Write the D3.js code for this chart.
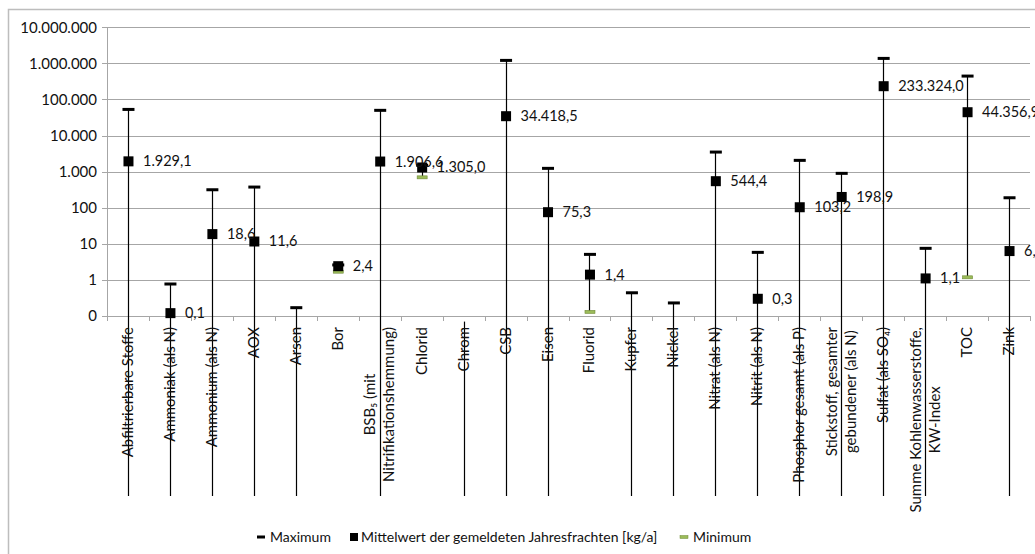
<!DOCTYPE html>
<html lang="de">
<head>
<meta charset="utf-8">
<script src="https://cdn.jsdelivr.net/npm/d3@7"></script>
<style>
  html, body { margin: 0; padding: 0; background: #fff; }
  svg { display: block; font-family: Lato, "Open Sans", sans-serif; }
</style>
</head>
<body>
<svg id="chart" width="1035" height="554"></svg>
<script>
// Stoffe (Parameter); "\n" trennt die Zeilen der Achsenbeschriftung
const categories = [
  "Abfiltrierbare Stoffe", "Ammoniak (als N)", "Ammonium (als N)", "AOX", "Arsen", "Bor",
  "BSB₅ (mit\nNitrifikationshemmung)", "Chlorid", "Chrom", "CSB", "Eisen", "Fluorid",
  "Kupfer", "Nickel", "Nitrat (als N)", "Nitrit (als N)", "Phosphor gesamt (als P)",
  "Stickstoff, gesamter\ngebundener (als N)", "Sulfat (als SO₄)",
  "Summe Kohlenwasserstoffe,\nKW-Index", "TOC", "Zink"
];

// Jahresfrachten in kg/a (null = kein Mittelwert gemeldet, 0 = Minimum null)
const maxValues = [
  53000, 0.77, 315, 374, 0.17, 2.6,
  50000, 1500, 0.07, 1210000, 1234, 5.1,
  0.44, 0.23, 3490, 5.8, 2055,
  897, 1374000,
  7.5, 445000, 189
];
const meanValues = [
  1929.1, 0.12, 18.6, 11.6, null, 2.4,
  1906.6, 1305.0, null, 34418.5, 75.3, 1.4,
  null, null, 544.4, 0.3, 103.2,
  198.9, 233324.0,
  1.1, 44356.9, 6.3
];
const minValues = [
  0, 0, 0, 0, 0, 1.69,
  0, 695, 0, 0, 0, 0.13,
  0, 0, 0, 0, 0,
  0, 0,
  0, 1.18, 0
];

// Logarithmische Achse
const yTickValues = [0.1, 1, 10, 100, 1000, 10000, 100000, 1000000, 10000000];
const yTickLabels = ["0", "1", "10", "100", "1.000", "10.000", "100.000", "1.000.000", "10.000.000"];

const legendLabels = ["Maximum", "Mittelwert der gemeldeten Jahresfrachten [kg/a]", "Minimum"];

const de = d3.formatLocale({ decimal: ",", thousands: ".", grouping: [3], currency: ["", " €"] });
const fmtValue = de.format(",.1f");

const svg = d3.select("#chart");
const W = 1035, H = 554;
const plot = { left: 107, right: 1030, top: 27.3, bottom: 316 };
const lineFloor = 496;          // high-low lines for a zero minimum run down to here
const gridColor = "#a6a6a6";
const minGreen = "#9bbb59";
const fontSize = 15;
const valueFontSize = 14.5;
const legendFontSize = 14;

// chart frame
svg.append("rect")
  .attr("x", 8.5).attr("y", 9.5)
  .attr("width", W + 20).attr("height", H + 20)
  .attr("fill", "#fff").attr("stroke", "#bdbdbd").attr("stroke-width", 1.5);

const x = d3.scaleBand().domain(categories).range([plot.left, plot.right]).paddingInner(0).paddingOuter(0);
const y = d3.scaleLog().domain([0.1, 1e7]).range([plot.bottom, plot.top]);
const cx = c => x(c) + x.bandwidth() / 2;

// gridlines + y axis
const yAxis = d3.axisLeft(y)
  .tickValues(yTickValues)
  .tickFormat((d, i) => yTickLabels[i])
  .tickSize(-(plot.right - plot.left))
  .tickPadding(10);
const gy = svg.append("g").attr("transform", `translate(${plot.left},0)`).call(yAxis);
gy.selectAll(".tick line").attr("stroke", gridColor).attr("x1", -5).attr("shape-rendering", "crispEdges");
gy.selectAll(".tick text").attr("font-size", fontSize).attr("fill", "#111").attr("font-family", "Lato, sans-serif");
gy.select(".domain").attr("stroke", gridColor).attr("d", `M0.5,${plot.top}V${plot.bottom}`);

// x axis with tick marks between categories
const gx = svg.append("g").attr("transform", `translate(0,${plot.bottom})`)
  .call(d3.axisBottom(x).tickSize(0).tickFormat(""));
gx.select(".domain").attr("stroke", gridColor).attr("d", `M${plot.left},0.5H${plot.right}`);
gx.selectAll(".tick").remove();
const boundaries = categories.map(c => x(c)).concat([x(categories[categories.length - 1]) + x.bandwidth()]);
gx.selectAll("line.sep").data(boundaries).join("line")
  .attr("class", "sep")
  .attr("x1", d => Math.round(d) + 0.5).attr("x2", d => Math.round(d) + 0.5)
  .attr("y1", 0).attr("y2", 5)
  .attr("stroke", gridColor);

const rows = categories.map((c, i) => ({ c, max: maxValues[i], mean: meanValues[i], min: minValues[i] }));

// high-low lines
svg.append("g").selectAll("line").data(rows).join("line")
  .attr("x1", d => Math.round(cx(d.c)) + 0.5).attr("x2", d => Math.round(cx(d.c)) + 0.5)
  .attr("y1", d => y(d.max))
  .attr("y2", d => d.min > 0 ? y(d.min) : lineFloor)
  .attr("stroke", "#000").attr("stroke-width", 1.2);

// category labels (rotated, top aligned, lines centred)
const labelTop = plot.bottom + 11;
const gl = svg.append("g");
rows.forEach(d => {
  const lines = d.c.split("\n");
  const t = gl.append("text")
    .attr("font-size", fontSize).attr("fill", "#111")
    .attr("text-anchor", "middle");
  const lh = 19;
  lines.forEach((ln, k) => {
    t.append("tspan").attr("x", 0).attr("dy", k === 0 ? 0 : lh).text(ln);
  });
  let maxLen = 0;
  t.selectAll("tspan").each(function () { maxLen = Math.max(maxLen, this.getComputedTextLength()); });
  const block = (lines.length - 1) * lh;
  // in rotated frame: x runs upward, y runs rightward
  t.attr("transform",
    `translate(${cx(d.c) - block / 2 + 5},${labelTop + maxLen / 2}) rotate(-90)`);
});

// clip for markers inside the plot area
svg.append("clipPath").attr("id", "plotClip").append("rect")
  .attr("x", plot.left).attr("y", plot.top - 6)
  .attr("width", plot.right - plot.left).attr("height", plot.bottom - plot.top + 6);

const gm = svg.append("g").attr("clip-path", "url(#plotClip)");

// maximum dashes
gm.selectAll("rect.max").data(rows).join("rect")
  .attr("class", "max")
  .attr("x", d => cx(d.c) - 5.5).attr("y", d => y(d.max) - 1.5)
  .attr("width", 12).attr("height", 3).attr("fill", "#000");

// minimum dashes
gm.selectAll("rect.min").data(rows.filter(d => d.min > 0)).join("rect")
  .attr("class", "min")
  .attr("x", d => cx(d.c) - 4.5).attr("y", d => y(d.min) - 1.5)
  .attr("width", 10).attr("height", 3)
  .attr("fill", minGreen).attr("stroke", "#6f8a35").attr("stroke-width", 0.6);

// mean squares
const means = rows.filter(d => d.mean != null);
svg.append("g").selectAll("rect").data(means).join("rect")
  .attr("x", d => cx(d.c) - 4.5).attr("y", d => y(d.mean) - 5)
  .attr("width", 10).attr("height", 10).attr("fill", "#000");

// value labels
svg.append("g").selectAll("text").data(means).join("text")
  .attr("x", d => cx(d.c) + 15).attr("y", d => y(d.mean) + 5)
  .attr("font-size", valueFontSize).attr("fill", "#111")
  .text(d => fmtValue(d.mean));

// legend
const ly = 537;
const lg = svg.append("g").attr("font-size", legendFontSize).attr("fill", "#111");
let lx = 257;
lg.append("rect").attr("x", lx).attr("y", ly - 1.5).attr("width", 8).attr("height", 3).attr("fill", "#000");
lg.append("text").attr("x", lx + 13).attr("y", ly + 5).text(legendLabels[0]);
lx = 350;
lg.append("rect").attr("x", lx).attr("y", ly - 4).attr("width", 8).attr("height", 8).attr("fill", "#000");
lg.append("text").attr("x", lx + 11).attr("y", ly + 5).text(legendLabels[1]);
lx = 680;
lg.append("rect").attr("x", lx).attr("y", ly - 1.5).attr("width", 8).attr("height", 3)
  .attr("fill", minGreen).attr("stroke", "#6f8a35").attr("stroke-width", 0.5);
lg.append("text").attr("x", lx + 13).attr("y", ly + 5).text(legendLabels[2]);
</script>
</body>
</html>
